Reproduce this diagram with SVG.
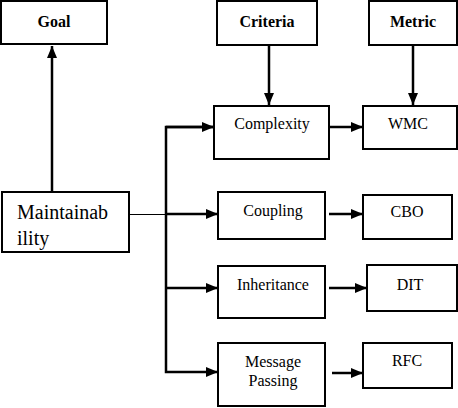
<svg xmlns="http://www.w3.org/2000/svg" width="458" height="408" viewBox="0 0 458 408">
<style>
.box{fill:#fff;stroke:#000;stroke-width:2}
text{font-family:"Liberation Serif","Times New Roman",serif;fill:#000}
.t{font-size:16px;text-anchor:middle}
.b{font-weight:bold;font-size:16px}
.m{font-size:20px}
.ln{stroke:#000;stroke-width:2.5;fill:none}
</style>
<defs>
<marker id="ah" markerWidth="12" markerHeight="10" refX="12" refY="5" orient="auto" markerUnits="userSpaceOnUse">
<path d="M0,0 L12,5 L0,10 Z" fill="#000"/>
</marker>
</defs>
<g id="connectors">
<line class="ln" x1="52" y1="192" x2="52" y2="46" marker-end="url(#ah)"/>
<line class="ln" x1="269" y1="45" x2="269" y2="105" marker-end="url(#ah)"/>
<line class="ln" x1="413" y1="45" x2="413" y2="105" marker-end="url(#ah)"/>
<line x1="129" y1="214.5" x2="166" y2="214.5" stroke="#000" stroke-width="1"/>
<polyline class="ln" points="214,127 166,127 166,372 218,372" marker-end="url(#ah)"/>
<line class="ln" x1="166" y1="127" x2="214" y2="127" marker-end="url(#ah)"/>
<line class="ln" x1="166" y1="214" x2="218" y2="214" marker-end="url(#ah)"/>
<line class="ln" x1="166" y1="288" x2="218" y2="288" marker-end="url(#ah)"/>
<line class="ln" x1="329" y1="127" x2="363" y2="127" marker-end="url(#ah)"/>
<line class="ln" x1="329" y1="214" x2="363" y2="214" marker-end="url(#ah)"/>
<line class="ln" x1="329" y1="288" x2="367" y2="288" marker-end="url(#ah)"/>
<line class="ln" x1="332" y1="373" x2="363" y2="373" marker-end="url(#ah)"/>
</g>
<g id="goal"><rect class="box" x="1" y="1" width="106" height="43"/><text class="t b" x="54" y="27">Goal</text></g>
<g id="criteria"><rect class="box" x="217" y="1" width="100" height="44"/><text class="t b" x="267" y="27">Criteria</text></g>
<g id="metric"><rect class="box" x="369" y="1" width="88" height="44"/><text class="t b" x="413" y="27">Metric</text></g>
<g id="maintainability"><rect class="box" x="2" y="192" width="127" height="60"/>
<text class="m" x="17" y="219">Maintainab</text>
<text class="m" x="17" y="245">ility</text></g>
<g id="complexity"><rect class="box" x="214" y="106" width="115" height="53"/><text class="t" x="272" y="129">Complexity</text></g>
<g id="wmc"><rect class="box" x="363" y="106" width="94" height="43"/><text class="t" x="408" y="129">WMC</text></g>
<g id="coupling"><rect class="box" x="218" y="192" width="107" height="47"/><text class="t" x="273" y="216">Coupling</text></g>
<g id="cbo"><rect class="box" x="363" y="195" width="89" height="44"/><text class="t" x="407" y="217">CBO</text></g>
<g id="inheritance"><rect class="box" x="218" y="266" width="107" height="52"/><text class="t" x="273" y="290">Inheritance</text></g>
<g id="dit"><rect class="box" x="367" y="265" width="90" height="46"/><text class="t" x="410" y="290">DIT</text></g>
<g id="message"><rect class="box" x="218" y="343" width="107" height="63"/><text class="t" x="273" y="367">Message</text><text class="t" x="273" y="386">Passing</text></g>
<g id="rfc"><rect class="box" x="363" y="343" width="89" height="45"/><text class="t" x="407" y="366">RFC</text></g>
</svg>
